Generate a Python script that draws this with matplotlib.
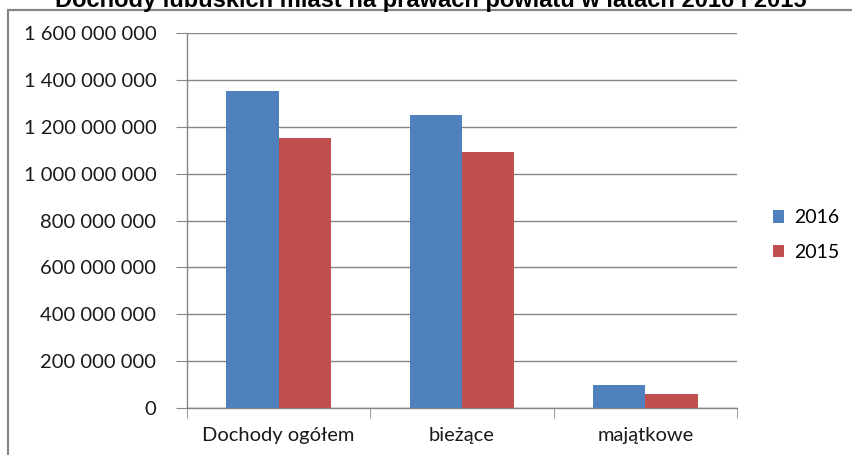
import matplotlib
matplotlib.use("Agg")
import matplotlib.pyplot as plt
from matplotlib.patches import Rectangle
from matplotlib.ticker import FuncFormatter, FixedLocator
import numpy as np

categories = ["Dochody ogółem", "bieżące", "majątkowe"]
series_names = ["2016", "2015"]
values_2016 = [1352000000, 1250000000, 100000000]
values_2015 = [1152000000, 1092000000, 58000000]
y_ticks = [0, 200000000, 400000000, 600000000, 800000000, 1000000000,
           1200000000, 1400000000, 1600000000]
title = "Dochody lubuskich miast na prawach powiatu w latach 2016 i 2015"

BLUE = "#4F81BD"
RED = "#C0504D"
GRID = "#868686"
FONT = ["Lato", "DejaVu Sans"]

W, H = 852, 455
fig = plt.figure(figsize=(W / 100, H / 100), dpi=100)
ax = fig.add_axes([187 / W, 1 - 408 / H, (737 - 187) / W, (408 - 33) / H])

x = np.arange(len(categories))
bw = 0.285
ax.bar(x - bw / 2, values_2016, bw, color=BLUE, label=series_names[0], zorder=3)
ax.bar(x + bw / 2, values_2015, bw, color=RED, label=series_names[1], zorder=3)

ax.set_xlim(-0.5, len(categories) - 0.5)
ax.set_ylim(0, 1600000000)
ax.yaxis.set_major_locator(FixedLocator(y_ticks))
ax.yaxis.set_major_formatter(FuncFormatter(lambda v, p: f"{int(v):,}".replace(",", " ")))
ax.grid(axis="y", color=GRID, lw=1, zorder=0)
ax.set_axisbelow(True)

for s in ["top", "right"]:
    ax.spines[s].set_visible(False)
for s in ["left", "bottom"]:
    ax.spines[s].set_color(GRID)
    ax.spines[s].set_linewidth(1)

ax.set_xticks(x)
ax.set_xticklabels(categories, fontsize=14.5, family=FONT, color="#1a1a1a")
ax.tick_params(axis="x", which="major", length=0, pad=14)
ax.set_xticks(np.arange(-0.5, len(categories)), minor=True)
ax.tick_params(axis="x", which="minor", length=7, color=GRID, direction="out")
ax.tick_params(axis="y", length=8, color=GRID, direction="out", pad=14,
               labelsize=14.5, labelcolor="#1a1a1a")
for lab in ax.get_yticklabels():
    lab.set_family(FONT)

leg = fig.legend(loc="center left", bbox_to_anchor=(765 / W, 1 - 235 / H),
                 frameon=False, prop={"family": FONT, "size": 14},
                 handlelength=0.6, handleheight=0.6, handletextpad=0.5,
                 labelspacing=0.9, borderaxespad=0)

fig.text(431 / W, 1 - 7 / H, title, ha="center", va="baseline",
         fontsize=17, fontweight="bold", family=["Liberation Sans", "DejaVu Sans"])

fig.patches.append(Rectangle((8 / W, -0.1), 1.2, (1 - 10 / H) + 0.1,
                             transform=fig.transFigure, fill=False,
                             edgecolor=GRID, lw=1.6))

fig.savefig("out.png", dpi=100)
